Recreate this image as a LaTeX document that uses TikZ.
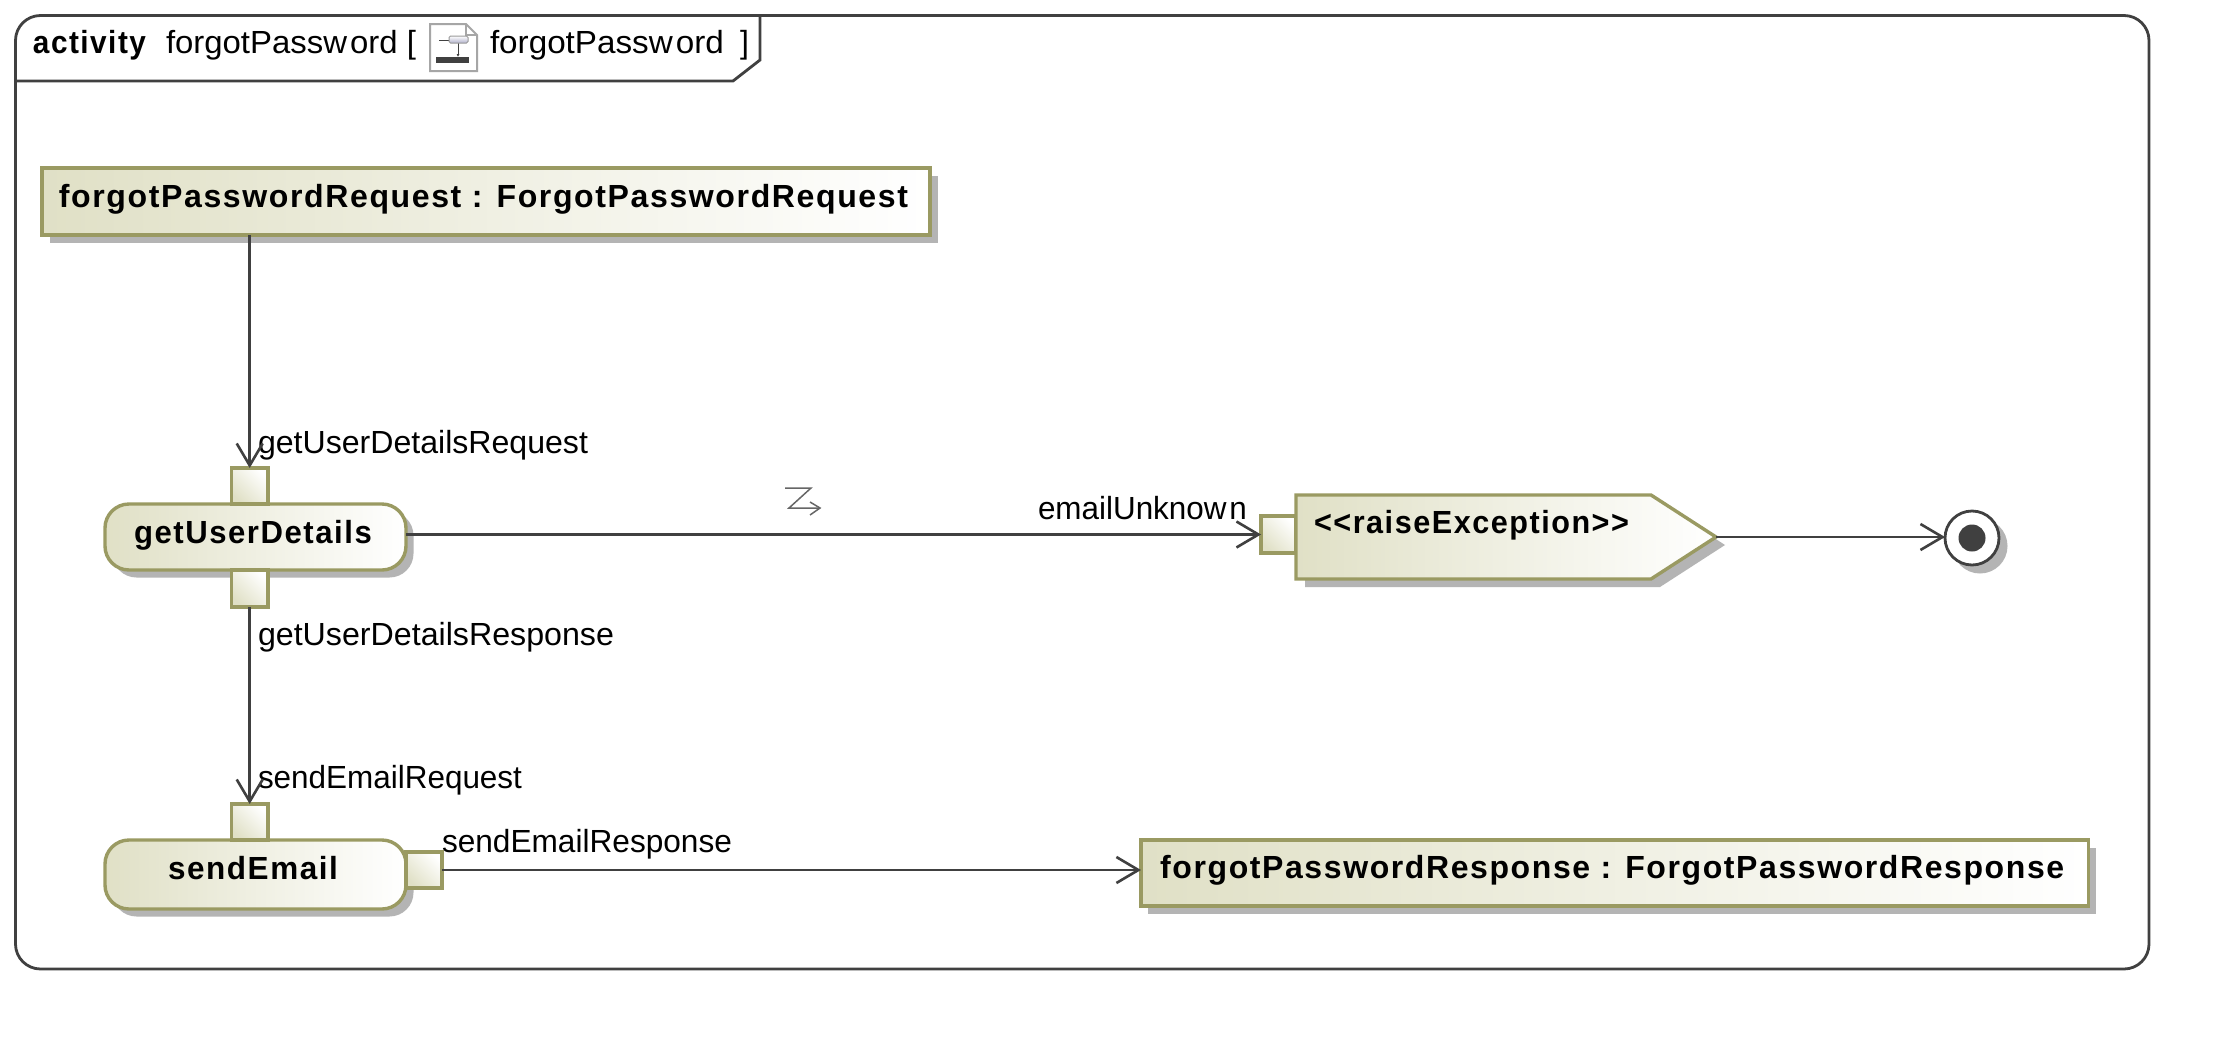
\documentclass[tikz,border=0pt]{standalone}
\usepackage{fontspec}
\setmainfont[BoldFeatures={LetterSpace=5}]{Liberation Sans}
\usetikzlibrary{arrows.meta,shadows,calc}
\definecolor{gL}{HTML}{E0E0C6}
\definecolor{gB}{HTML}{9A9A62}
\definecolor{gS}{HTML}{B4B4B4}
\definecolor{gK}{HTML}{404040}
\newcommand{\fitw}[2]{\resizebox{#1pt}{\height}{#2}}
\newcommand{\bfit}[2]{\fitw{#1}{#2}\hspace*{5pt}}
\tikzset{
  every node/.style={inner sep=0pt,outer sep=0pt,font=\fontsize{32}{34}\selectfont,text=black},
  lbl/.style={anchor=base west},
  boxbase/.style={draw=gB,line width=3.4pt,left color=gL,right color=white,font=\fontsize{32}{34}\selectfont\bfseries,text height=20pt},
  objbox/.style={boxbase,rectangle,drop shadow={shadow xshift=7.5pt,shadow yshift=-7.5pt,fill=gS,opacity=1}},
  actbox/.style={boxbase,rectangle,rounded corners=24pt,minimum width=301pt,drop shadow={shadow xshift=7.5pt,shadow yshift=-7.5pt,fill=gS,opacity=1}},
  pin/.style={draw=gB,line width=3.4pt,left color=gL,right color=white,shading angle=135,rectangle},
  flow/.style={draw=gK,line width=2.6pt,-{Straight Barb[length=22pt,width=26pt]}},
}
\begin{document}
\begin{tikzpicture}[x=1pt,y=-1pt]
\useasboundingbox (0,0) rectangle (2223,1044);
\fill[white] (0,0) rectangle (2223,1044);
% frame
\draw[gK,line width=2.8pt,rounded corners=25pt] (15.5,15.5) rectangle (2149,969);
\coordinate (tabL) at (15.5,81);
\coordinate (tabA) at (733,81);
\coordinate (tabB) at (760,60);
\coordinate (tabC) at (760,15.5);
\draw[gK,line width=2.8pt] (tabL) -- (tabA) -- (tabB) -- (tabC);
\node[lbl,font=\fontsize{32}{34}\selectfont\bfseries] (tact) at (33,53) {\fitw{113}{activity}};
\node[lbl] (tname) at (166,53) {\fitw{250}{forgotPassw\kern3pt ord [}};
\node[lbl] (tname2) at (490,53) {\fitw{234}{forgotPassw\kern3pt ord}};
\node[lbl] (tbr) at (740,53) {]};
% icon
\draw[gray!70,line width=2pt,fill=white] (430,24) -- (466,24) -- (477,35) -- (477,71) -- (430,71) -- cycle;
\draw[gray!70,line width=1.2pt] (466,24) -- (466,35) -- (477,35);
\draw[gK,line width=1pt] (439,40) -- (449,40);
\draw[gK,line width=1pt,-{Latex[length=3pt,width=3pt]}] (458,43) -- (458,57);
\draw[gray!80,line width=1pt,top color=white,bottom color=blue!20!gray!50,rounded corners=1.5pt] (449,36) rectangle (468,43);
\fill[gK] (436,57) rectangle (469,63);
% nodes
\node[objbox,minimum width=888pt,minimum height=67pt,text depth=9pt] (req) at (486,201.5)
  {\bfit{849}{forgotPasswordRequest : ForgotPasswordRequest}};
\node[objbox,minimum width=947.5pt,minimum height=66pt,text depth=10pt] (resp) at (1614.7,873)
  {\bfit{904}{forgotPasswordResponse : ForgotPasswordResponse}};
\node[actbox,minimum height=66pt,text depth=8pt] (gud) at (255.5,537) {\bfit{238}{getUserDetails}};
\node[actbox,minimum height=69pt,text depth=11pt] (se) at (255.5,874.5) {\bfit{170}{sendEmail}};
\node[pin,minimum width=36.5pt,minimum height=36pt] (gudIn) at (249.7,486) {};
\node[pin,minimum width=36.5pt,minimum height=37pt] (gudOut) at (249.7,588.5) {};
\node[pin,minimum width=36.5pt,minimum height=36pt] (seIn) at (249.7,822) {};
\node[pin,minimum width=36pt,minimum height=36pt] (seOut) at (424,870) {};
\node[pin,minimum width=35pt,minimum height=37pt] (exIn) at (1278.5,534.5) {};
% raise exception
\fill[gS] (1305,503) -- (1660,503) -- (1725,545) -- (1660,587) -- (1305,587) -- cycle;
\draw[gB,line width=3.4pt,left color=gL,right color=white] (1296,495) -- (1651,495) -- (1716,537) -- (1651,579) -- (1296,579) -- cycle;
\coordinate (exTip) at (1716,537);
\node[lbl,font=\fontsize{32}{34}\selectfont\bfseries] (exT) at (1314,533) {\fitw{315}{<{}<raiseException>{}>}};
% final node
\fill[gS] (1980,546) circle (27.5pt);
\node[circle,draw=gK,line width=2.8pt,fill=white,minimum size=54pt] (fin) at (1972,538) {};
\fill[gK] (fin.center) circle (13.5pt);
% labels
\node[lbl] (l1) at (258,453) {\fitw{330}{getUserDetailsRequest}};
\node[lbl] (l2) at (258,645) {\fitw{356}{getUserDetailsResponse}};
\node[lbl] (l3) at (258,788) {\fitw{264}{sendEmailRequest}};
\node[lbl] (l4) at (442,852) {\fitw{290}{sendEmailResponse}};
\node[lbl] (l5) at (1038,519) {\fitw{209}{emailUnknow\kern3pt n}};
% connectors
\draw[flow] (req.south -| gudIn) -- (gudIn.north);
\draw[flow] (gudOut.south) -- (seIn.north);
\draw[flow] (gud.east |- exIn) -- (exIn.west);
\draw[flow] (seOut.east) -- (resp.west |- seOut);
\draw[flow] (exTip) -- (fin.west |- exTip);
% interrupt mark
\draw[gray!80!black,line width=1.5pt] (785,488) -- (811,488) -- (789,508) -- (820,508);
\draw[gray!80!black,line width=1.5pt] (810,502) -- (820,508) -- (810,515);
\end{tikzpicture}
\end{document}
